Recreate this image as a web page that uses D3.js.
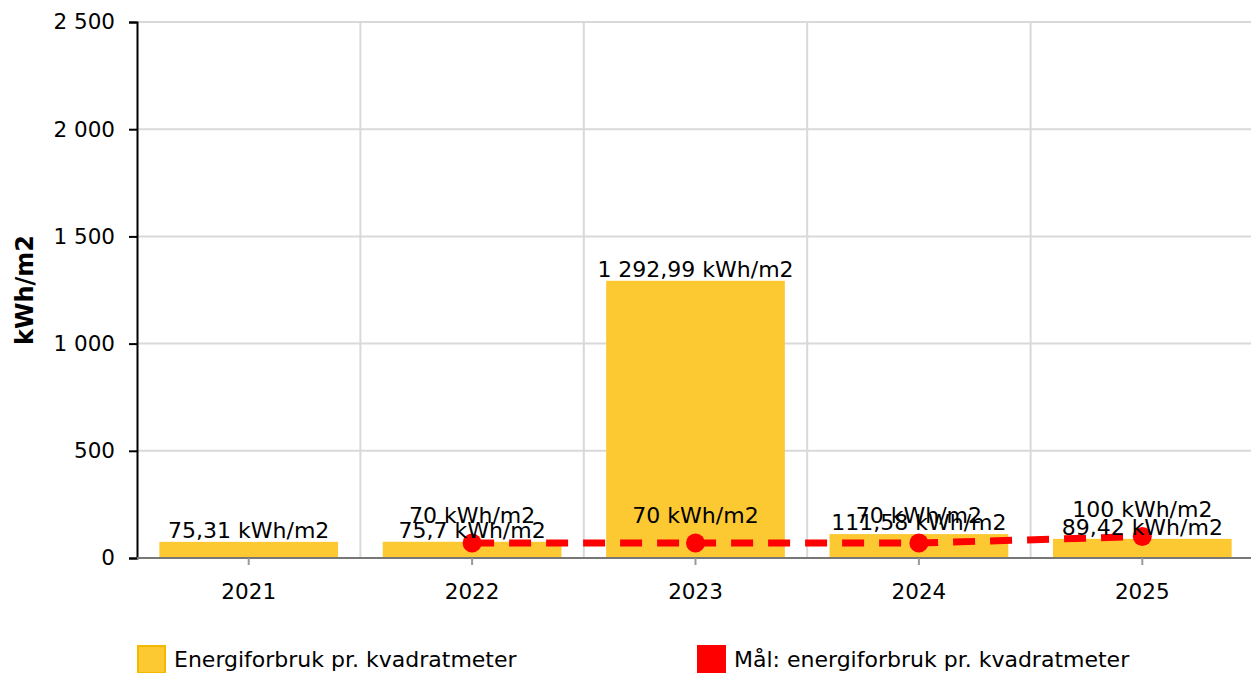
<!DOCTYPE html>
<html>
<head>
<meta charset="utf-8">
<script src="https://cdn.jsdelivr.net/npm/d3@7"></script>
<style>
  body { margin: 0; background: #fff; }
  svg { font-family: "DejaVu Sans", Verdana, sans-serif; }
</style>
</head>
<body>
<div id="chart"></div>
<script>
// data
const years = ["2021", "2022", "2023", "2024", "2025"];
const usage = [75.31, 75.7, 1292.99, 111.58, 89.42];
const targetYears = ["2022", "2023", "2024", "2025"];
const targets = [70, 70, 70, 100];
const yTicks = [0, 500, 1000, 1500, 2000, 2500];

const W = 1251, H = 673;
const margin = {top: 22, right: 0, bottom: 115, left: 137};

const svg = d3.select("#chart").append("svg")
  .attr("width", W).attr("height", H);

const x = d3.scaleBand().domain(years).range([margin.left, 1254]).padding(0);
const y = d3.scaleLinear().domain([0, 2500]).range([H - margin.bottom, margin.top]);

const fmt = v => d3.format(",.2~f")(v).replace(/,/g, " ").replace(".", ",");
const fmtTick = v => d3.format(",")(v).replace(/,/g, " ");

// gridlines
svg.append("g").selectAll("line").data(yTicks.slice(1)).join("line")
  .attr("x1", margin.left).attr("x2", W)
  .attr("y1", d => y(d)).attr("y2", d => y(d))
  .attr("stroke", "#d9d9d9").attr("stroke-width", 2);
svg.append("g").selectAll("line").data(years.slice(1)).join("line")
  .attr("x1", d => x(d)).attr("x2", d => x(d))
  .attr("y1", margin.top).attr("y2", y(0))
  .attr("stroke", "#d9d9d9").attr("stroke-width", 2);

// bars
const barW = x.bandwidth() * 0.8;
svg.append("g").selectAll("rect").data(years).join("rect")
  .attr("x", d => x(d) + (x.bandwidth() - barW) / 2)
  .attr("y", (d, i) => y(usage[i]))
  .attr("width", barW)
  .attr("height", (d, i) => y(0) - y(usage[i]))
  .attr("fill", "#fcc932");

// y axis
const yAxis = svg.append("g")
  .attr("transform", `translate(${margin.left},0)`)
  .call(d3.axisLeft(y).tickValues(yTicks).tickFormat(fmtTick).tickSize(8).tickPadding(14));
yAxis.attr("font-size", null).attr("font-family", null);
yAxis.select(".domain").attr("stroke", "#000").attr("stroke-width", 2);
yAxis.selectAll(".tick line").attr("stroke", "#000").attr("stroke-width", 2);
yAxis.selectAll("text").style("font-size", "21.5px").attr("fill", "#000");

// x axis
const xAxis = svg.append("g")
  .attr("transform", `translate(0,${y(0)})`)
  .call(d3.axisBottom(x).tickSize(7).tickPadding(19));
xAxis.attr("font-size", null).attr("font-family", null);
xAxis.select(".domain").attr("stroke", "#777").attr("stroke-width", 2)
  .attr("d", `M${margin.left},0H${W}`);
xAxis.selectAll(".tick line").attr("stroke", "#999").attr("stroke-width", 2);
xAxis.selectAll("text").style("font-size", "21.5px").attr("fill", "#000");

// axis title
svg.append("text")
  .attr("transform", `translate(33,${(margin.top + y(0)) / 2}) rotate(-90)`)
  .attr("text-anchor", "middle")
  .style("font-size", "24px").attr("font-weight", "bold")
  .text("kWh/m2");

// target line
const cx = d => x(d) + x.bandwidth() / 2;
const line = d3.line().x(d => cx(d[0])).y(d => y(d[1]));
const tPts = targetYears.map((d, i) => [d, targets[i]]);
svg.append("path").datum(tPts)
  .attr("d", line)
  .attr("fill", "none").attr("stroke", "#ff0000")
  .attr("stroke-width", 7).attr("stroke-dasharray", "22,15");
svg.append("g").selectAll("circle").data(tPts).join("circle")
  .attr("cx", d => cx(d[0])).attr("cy", d => y(d[1]))
  .attr("r", 9.5).attr("fill", "#ff0000");

// bar labels
svg.append("g").selectAll("text").data(years).join("text")
  .attr("x", d => cx(d))
  .attr("y", (d, i) => y(usage[i]) - 4)
  .attr("text-anchor", "middle").style("font-size", "22px")
  .text((d, i) => fmt(usage[i]) + " kWh/m2");

// target labels
svg.append("g").selectAll("text").data(tPts).join("text")
  .attr("x", d => cx(d[0]))
  .attr("y", d => y(d[1]) - 20)
  .attr("text-anchor", "middle").style("font-size", "22px")
  .text(d => fmt(d[1]) + " kWh/m2");

// legend
const legend = [
  {label: "Energiforbruk pr. kvadratmeter", fill: "#fcc932", stroke: "#f5b800", x: 137},
  {label: "Mål: energiforbruk pr. kvadratmeter", fill: "#ff0000", stroke: "#ff0000", x: 697}
];
const lg = svg.append("g").selectAll("g").data(legend).join("g")
  .attr("transform", d => `translate(${d.x},645)`);
lg.append("rect").attr("x", 1).attr("y", 1).attr("width", 27).attr("height", 27)
  .attr("fill", d => d.fill).attr("stroke", d => d.stroke).attr("stroke-width", 2);
lg.append("text").attr("x", 37).attr("y", 22).style("font-size", "22px")
  .text(d => d.label);
</script>
</body>
</html>
